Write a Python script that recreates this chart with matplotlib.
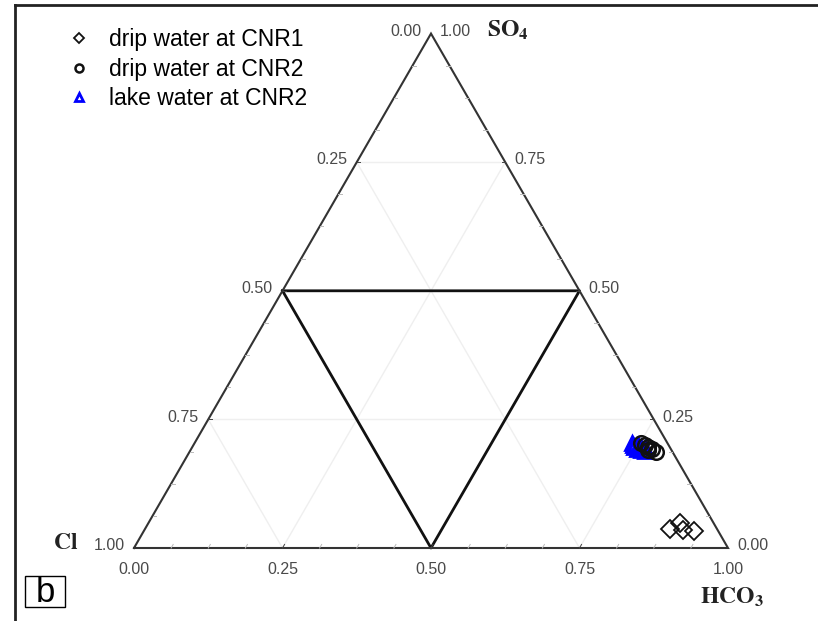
import numpy as np
import matplotlib as mpl
import matplotlib.pyplot as plt
from matplotlib.lines import Line2D
from matplotlib.patches import Rectangle

# ----------------------------
# data (fractions of HCO3 and SO4, Cl = rest)
# ----------------------------
cnr1_hco3 = [0.884, 0.895, 0.907, 0.926]
cnr1_so4 = [0.037, 0.049, 0.035, 0.033]

cnr2_hco3 = [0.752, 0.760, 0.767, 0.776, 0.785, 0.771]
cnr2_so4 = [0.204, 0.200, 0.196, 0.192, 0.187, 0.190]

lake_hco3 = [0.736, 0.744, 0.751, 0.758, 0.766, 0.748, 0.740, 0.755, 0.762]
lake_so4 = [0.204, 0.196, 0.192, 0.190, 0.189, 0.200, 0.200, 0.196, 0.195]

tick_values = [0.00, 0.25, 0.50, 0.75, 1.00]
labels = ['drip water at CNR1', 'drip water at CNR2', 'lake water at CNR2']

mpl.rcParams['font.family'] = ['Liberation Sans', 'DejaVu Sans']
mpl.rcParams['mathtext.fontset'] = 'stix'

H = np.sqrt(3) / 2


def to_xy(hco3, so4):
    """Ternary fractions -> cartesian (HCO3 bottom-right, SO4 apex)."""
    hco3 = np.asarray(hco3)
    so4 = np.asarray(so4)
    return hco3 + so4 / 2, so4 * H


# ----------------------------
# figure
# ----------------------------
W, Hp = 818, 621
scale, x0, y0 = 594.0, 134.0, 548.0
fig = plt.figure(figsize=(W / 100, Hp / 100), dpi=100)
ax = fig.add_axes([0, 0, 1, 1])
ax.set_xlim(-x0 / scale, (W - x0) / scale)
ax.set_ylim(-(Hp - y0) / scale, y0 / scale)
ax.axis('off')

# light gridlines at 0.25 / 0.75
for v in [0.25, 0.75]:
    # constant SO4
    xs, ys = to_xy([0, 1 - v], [v, v])
    ax.plot(xs, ys, color='#efefef', lw=1.0, zorder=1)
    # constant HCO3
    xs, ys = to_xy([v, v], [0, 1 - v])
    ax.plot(xs, ys, color='#efefef', lw=1.0, zorder=1)
    # constant Cl
    xs, ys = to_xy([1 - v, 0], [0, 1 - v])
    ax.plot(xs, ys, color='#efefef', lw=1.0, zorder=1)

# bold 0.5 triangle
xs, ys = to_xy([0, 0.5, 0.5, 0], [0.5, 0.5, 0, 0.5])
ax.plot(xs, ys, color='#111111', lw=2.0, zorder=2)

# outer triangle
xs, ys = to_xy([0, 1, 0, 0], [0, 0, 1, 0])
ax.plot(xs, ys, color='#333333', lw=1.5, zorder=3, solid_joinstyle='miter')

# small ticks along the edges
tl = 0.006
for k in range(1, 16):
    f = k / 16.0
    c = '#444444' if k % 4 == 0 else '#bbbbbb'
    # bottom edge (HCO3)
    bx, by = to_xy([f, f], [0, tl / H])
    ax.plot(bx, by, color=c, lw=0.7, zorder=3)
    # left edge
    lx, ly = to_xy([0, tl], [f, f])
    ax.plot(lx, ly, color=c, lw=0.7, zorder=3)
    # right edge
    rx, ry = to_xy([1 - f, 1 - f - tl], [f, f])
    ax.plot(rx, ry, color=c, lw=0.7, zorder=3)

# tick labels
lab_kw = dict(fontsize=11.5, color='#4a4a4a')
for v in tick_values:
    # left edge: Cl fraction
    ex, ey = to_xy(0, 1 - v)
    ax.text(ex - 0.016, ey + 0.004, '%.2f' % v, ha='right', va='center', **lab_kw)
    # right edge: SO4 fraction
    ex, ey = to_xy(1 - v, v)
    ax.text(ex + 0.015, ey + 0.004, '%.2f' % v, ha='left', va='center', **lab_kw)
    # bottom edge: HCO3 fraction
    ex, ey = to_xy(v, 0)
    ax.text(ex, ey - 0.037, '%.2f' % v, ha='center', va='center', **lab_kw)

# corner names
ax.text(0.594, 0.872, r'$\mathbf{SO_4}$', ha='left', va='center', fontsize=17, color='#222222')
ax.text(0.953, -0.083, r'$\mathbf{HCO_3}$', ha='left', va='center', fontsize=17, color='#222222')
ax.text(-0.094, 0.008, r'$\mathbf{Cl}$', ha='right', va='center', fontsize=17, color='#222222')

# data
x1, y1 = to_xy(cnr1_hco3, cnr1_so4)
x2, y2 = to_xy(cnr2_hco3, cnr2_so4)
x3, y3 = to_xy(lake_hco3, lake_so4)
h1, = ax.plot(x1, y1, ls='none', marker='D', markersize=9.5, mfc='none', mec='#111111', mew=1.3, zorder=5)
h3, = ax.plot(x3, y3, ls='none', marker='^', markersize=9.5, mfc='none', mec='#0000ff', mew=2.0, zorder=5)
h2, = ax.plot(x2, y2, ls='none', marker='o', markersize=10.5, mfc='none', mec='#111111', mew=1.8, zorder=6)

leg = ax.legend([h1, h2, h3], labels, loc='upper left',
                bbox_to_anchor=(56 / W, 1 - 17 / Hp), bbox_transform=fig.transFigure,
                frameon=False, fontsize=16.5, markerscale=0.55, handlelength=1.0,
                handletextpad=0.8, labelspacing=0.28, borderpad=0)

# outer frame (top and left)
fig.add_artist(Line2D([15 / W, 15 / W], [0, 1 - 5 / Hp], color='#222222', lw=2.0,
                      transform=fig.transFigure))
fig.add_artist(Line2D([15 / W, 1], [1 - 5 / Hp, 1 - 5 / Hp], color='#222222', lw=2.0,
                      transform=fig.transFigure))

# panel label
fig.add_artist(Rectangle((25 / W, 1 - 607 / Hp), 40 / W, 31 / Hp, fill=False,
                         ec='black', lw=1.0, transform=fig.transFigure))
fig.text(45 / W, 1 - 592 / Hp, 'b', ha='center', va='center', fontsize=25)

fig.savefig('out.png', dpi=100)
